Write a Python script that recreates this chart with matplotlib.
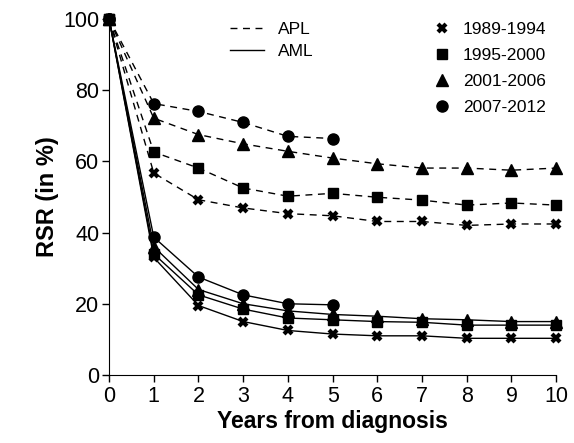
import matplotlib.pyplot as plt
from matplotlib.lines import Line2D

plt.rcParams['font.family'] = ['Liberation Sans', 'DejaVu Sans']

# === Data ===
years = [0, 1, 2, 3, 4, 5, 6, 7, 8, 9, 10]
periods = ['1989-1994', '1995-2000', '2001-2006', '2007-2012']

apl_1989 = [100, 56.7, 49.2, 46.9, 45.3, 44.7, 43.1, 43.1, 42.0, 42.4, 42.4]
apl_1995 = [100, 62.6, 58.1, 52.5, 50.2, 51.0, 49.9, 49.1, 47.7, 48.3, 47.7]
apl_2001 = [100, 72.1, 67.5, 64.9, 62.8, 60.9, 59.3, 58.1, 58.1, 57.5, 58.1]
apl_2007 = [100, 76.2, 74.0, 70.9, 67.0, 66.4]

aml_1989 = [100, 33.0, 19.5, 15.0, 12.5, 11.5, 11.0, 11.0, 10.3, 10.3, 10.3]
aml_1995 = [100, 34.0, 22.5, 18.5, 16.0, 15.5, 15.0, 14.8, 14.0, 14.0, 14.0]
aml_2001 = [100, 36.0, 24.0, 20.0, 18.0, 17.0, 16.5, 15.8, 15.5, 15.0, 15.0]
aml_2007 = [100, 38.7, 27.5, 22.5, 20.0, 19.7]

apl = [apl_1989, apl_1995, apl_2001, apl_2007]
aml = [aml_1989, aml_1995, aml_2001, aml_2007]

markers = ['x', 's', '^', 'o']
msizes = [6, 7, 9, 8]


def mew(m):
    return 3 if m == 'x' else 1


# === Plot ===
fig = plt.figure(figsize=(5.74, 4.43), dpi=100)
ax = fig.add_axes([0.19, 0.1535, 0.779, 0.804])

for series, m, ms in zip(apl, markers, msizes):
    ax.plot(years[:len(series)], series, color='black', lw=1, dashes=(5, 4),
            marker=m, markersize=ms, mew=mew(m), clip_on=False)
for series, m, ms in zip(aml, markers, msizes):
    ax.plot(years[:len(series)], series, color='black', lw=1,
            marker=m, markersize=ms, mew=mew(m), clip_on=False)

ax.set_xlim(0, 10)
ax.set_ylim(0, 100)
ax.set_xticks(range(0, 11))
ax.set_yticks(range(0, 101, 20))
ax.spines['top'].set_visible(False)
ax.spines['right'].set_visible(False)
ax.tick_params(labelsize=15.5, length=5, width=1)
ax.tick_params(axis='x', pad=3)
ax.tick_params(axis='y', pad=2)
ax.set_xlabel('Years from diagnosis', fontsize=16.5, fontweight='bold', labelpad=2)
ax.set_ylabel('RSR (in %)', fontsize=17, fontweight='bold', labelpad=3)

# legends
style_handles = [Line2D([], [], color='black', lw=1, dashes=(5, 4)),
                 Line2D([], [], color='black', lw=1)]
leg1 = ax.legend(style_handles, ['APL', 'AML'], loc='upper left',
                 bbox_to_anchor=(0.235, 1.035), frameon=False, fontsize=12.5,
                 handlelength=2.0, labelspacing=0.4)
ax.add_artist(leg1)

marker_handles = [Line2D([], [], color='black', ls='none', marker=m,
                         markersize=ms, mew=mew(m))
                  for m, ms in zip(markers, msizes)]
ax.legend(marker_handles, periods, loc='upper left', bbox_to_anchor=(0.69, 1.035),
          frameon=False, fontsize=12.5, handlelength=1.0, handletextpad=0.7,
          labelspacing=0.62)

fig.savefig('out.png', dpi=100)
